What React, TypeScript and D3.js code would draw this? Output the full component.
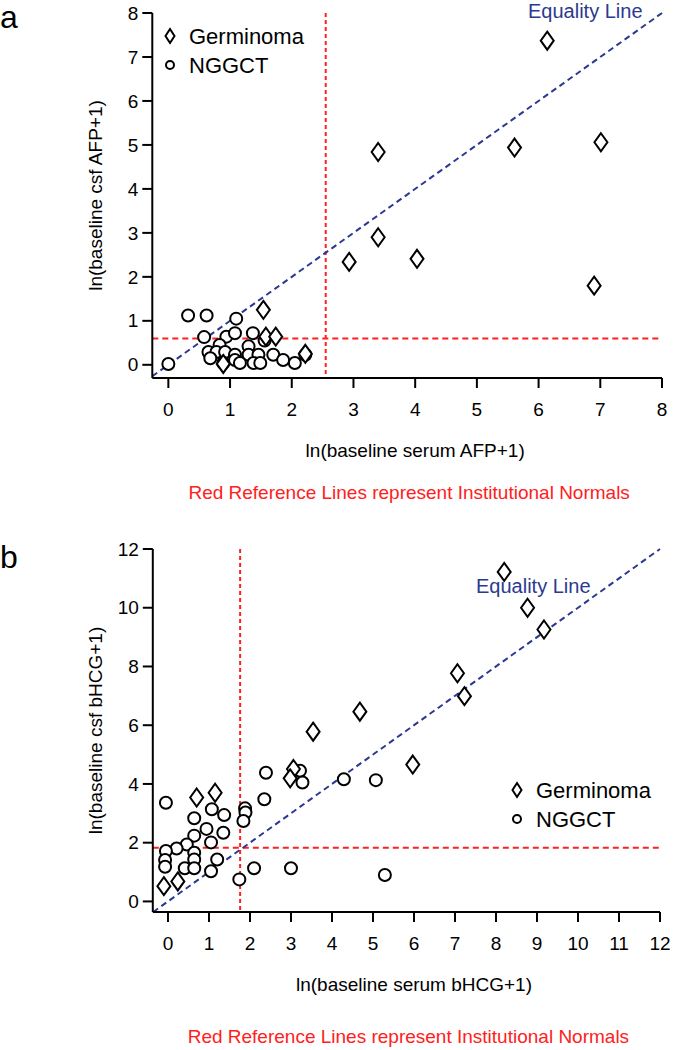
import React from "react";
import * as d3 from "d3";

// Panel a: AFP
const afpGermX = [6.14, 5.61, 7.01, 3.4, 3.4, 4.03, 6.9, 2.93, 1.54, 1.58, 1.74, 2.22, 0.89];
const afpGermY = [7.37, 4.94, 5.06, 4.84, 2.9, 2.41, 1.8, 2.34, 1.25, 0.64, 0.64, 0.25, 0.02];
const afpNggX = [0, 0.32, 0.62, 1.1, 0.58, 0.94, 1.08, 1.37, 1.56, 0.83, 1.3, 0.65, 0.78, 0.92, 1.08, 1.3, 1.46, 1.7, 0.68, 1.08, 0.89, 1.16, 1.38, 1.49, 1.86, 2.05, 2.22];
const afpNggY = [0.02, 1.12, 1.12, 1.05, 0.63, 0.64, 0.72, 0.72, 0.55, 0.45, 0.42, 0.29, 0.29, 0.29, 0.23, 0.23, 0.23, 0.23, 0.15, 0.11, 0.04, 0.04, 0.04, 0.04, 0.11, 0.04, 0.23];
const afpTicks = [0, 1, 2, 3, 4, 5, 6, 7, 8];
const afpRefX = 2.55;
const afpRefY = 0.6;

// Panel b: bHCG
const hcgGermX = [-0.1, 0.24, 0.7, 1.15, 3.06, 2.98, 3.54, 4.68, 5.97, 7.06, 7.23, 8.77, 9.17, 8.2];
const hcgGermY = [0.52, 0.68, 3.54, 3.7, 4.51, 4.19, 5.78, 6.46, 4.66, 7.77, 6.99, 10.0, 9.26, 11.22];
const hcgNggX = [-0.05, 1.07, 1.37, 0.64, 0.94, 1.35, 0.64, 1.05, 0.46, 0.21, -0.05, 0.64, -0.07, 0.64, 1.2, -0.07, 0.41, 0.64, 1.05, 1.88, 1.89, 1.84, 2.39, 2.35, 3.22, 3.28, 4.29, 5.07, 2.1, 3.0, 5.29, 1.74];
const hcgNggY = [3.36, 3.14, 2.94, 2.83, 2.47, 2.34, 2.24, 2.01, 1.94, 1.8, 1.72, 1.66, 1.41, 1.43, 1.43, 1.18, 1.13, 1.13, 1.03, 3.17, 3.03, 2.74, 4.38, 3.48, 4.45, 4.05, 4.16, 4.13, 1.13, 1.13, 0.9, 0.75];
const hcgXTicks = [0, 1, 2, 3, 4, 5, 6, 7, 8, 9, 10, 11, 12];
const hcgYTicks = [0, 2, 4, 6, 8, 10, 12];
const hcgRefX = 1.76;
const hcgRefY = 1.83;

const FONT = "'Liberation Sans', Arial, Helvetica, sans-serif";
const BLUE = "#2b3990";
const RED = "#ff2020";

function diamond(cx: number, cy: number, w: number, h: number) {
  return `M${cx},${cy - h}L${cx + w},${cy}L${cx},${cy + h}L${cx - w},${cy}Z`;
}

type PanelProps = {
  letter: string;
  letterY: number;
  xDomain: [number, number];
  xRange: [number, number];
  yDomain: [number, number];
  yRange: [number, number];
  xTicks: number[];
  yTicks: number[];
  germX: number[];
  germY: number[];
  nggX: number[];
  nggY: number[];
  refX: number;
  refY: number;
  eqMax: number;
  xTitle: string;
  yTitle: string;
  eqLabel: { x: number; y: number };
  legend: { x: number; y: number };
  noteY: number;
};

function Panel(p: PanelProps) {
  const xs = d3.scaleLinear().domain(p.xDomain).range(p.xRange);
  const ys = d3.scaleLinear().domain(p.yDomain).range(p.yRange);
  const [x0, x1] = p.xRange;
  const [yb, yt] = p.yRange;
  const eqMin = Math.max(p.xDomain[0], p.yDomain[0]);
  const line = d3.line<[number, number]>().x((d) => xs(d[0])).y((d) => ys(d[1]));
  const midY = (yb + yt) / 2;
  const midX = (xs(0) + x1) / 2;
  return (
    <g fontFamily={FONT}>
      <text x={0} y={p.letterY} fontSize={32}>{p.letter}</text>
      {/* reference lines */}
      <line x1={xs(p.refX)} x2={xs(p.refX)} y1={yt} y2={yb} stroke={RED} strokeWidth={2} strokeDasharray="4,3" />
      <line x1={x0} x2={x1} y1={ys(p.refY)} y2={ys(p.refY)} stroke={RED} strokeWidth={2} strokeDasharray="6,4" />
      {/* equality line */}
      <path d={line([[eqMin, eqMin], [p.eqMax, p.eqMax]]) || ""} stroke={BLUE} strokeWidth={2} strokeDasharray="6,4" fill="none" />
      <text x={p.eqLabel.x} y={p.eqLabel.y} fill={BLUE} fontSize={20}>Equality Line</text>
      {/* axes */}
      <line x1={x0} x2={x0} y1={yt} y2={yb} stroke="#000" strokeWidth={2} />
      <line x1={x0} x2={x1} y1={yb} y2={yb} stroke="#000" strokeWidth={2} />
      {p.yTicks.map((t) => (
        <g key={"y" + t}>
          <line x1={x0 - 10} x2={x0} y1={ys(t)} y2={ys(t)} stroke="#000" strokeWidth={2} />
          <text x={x0 - 14} y={ys(t)} dy="0.35em" textAnchor="end" fontSize={19}>{t}</text>
        </g>
      ))}
      {p.xTicks.map((t) => (
        <g key={"x" + t}>
          <line x1={xs(t)} x2={xs(t)} y1={yb} y2={yb + 10} stroke="#000" strokeWidth={2} />
          <text x={xs(t)} y={yb + 31} dy="0.35em" textAnchor="middle" fontSize={19}>{t}</text>
        </g>
      ))}
      <text x={midX} y={yb + 72} dy="0.35em" textAnchor="middle" fontSize={19}>{p.xTitle}</text>
      <text transform={`translate(95,${midY}) rotate(-90)`} textAnchor="middle" dy="0.35em" fontSize={19}>{p.yTitle}</text>
      {/* points */}
      {p.nggX.map((v, i) => (
        <circle key={"n" + i} cx={xs(v)} cy={ys(p.nggY[i])} r={6} fill="#fff" stroke="#000" strokeWidth={2} />
      ))}
      {p.germX.map((v, i) => (
        <path key={"g" + i} d={diamond(xs(v), ys(p.germY[i]), 6.5, 9)} fill="#fff" stroke="#000" strokeWidth={2} />
      ))}
      {/* legend */}
      <path d={diamond(p.legend.x, p.legend.y, 4.5, 7)} fill="#fff" stroke="#000" strokeWidth={2} />
      <text x={p.legend.x + 19} y={p.legend.y} dy="0.35em" fontSize={22}>Germinoma</text>
      <circle cx={p.legend.x} cy={p.legend.y + 29} r={4} fill="#fff" stroke="#000" strokeWidth={2} />
      <text x={p.legend.x + 19} y={p.legend.y + 29} dy="0.35em" fontSize={22}>NGGCT</text>
      <text x={(x0 + x1) / 2 + 2} y={p.noteY} dy="0.35em" textAnchor="middle" fill={RED} fontSize={19}>Red Reference Lines represent Institutional Normals</text>
    </g>
  );
}

export default function App() {
  return (
    <svg width={674} height={1050} style={{ position: "absolute", left: 0, top: 0, background: "#fff" }}>
      <Panel
        letter="a"
        letterY={28}
        xDomain={[-0.26, 8]}
        xRange={[152.3, 662]}
        yDomain={[-0.3, 8]}
        yRange={[378, 13]}
        xTicks={afpTicks}
        yTicks={afpTicks}
        germX={afpGermX}
        germY={afpGermY}
        nggX={afpNggX}
        nggY={afpNggY}
        refX={afpRefX}
        refY={afpRefY}
        eqMax={8}
        xTitle="ln(baseline serum AFP+1)"
        yTitle="ln(baseline csf AFP+1)"
        eqLabel={{ x: 528, y: 18 }}
        legend={{ x: 170, y: 36 }}
        noteY={492}
      />
      <Panel
        letter="b"
        letterY={568}
        xDomain={[-0.37, 12]}
        xRange={[152.8, 660]}
        yDomain={[-0.36, 12]}
        yRange={[912, 549]}
        xTicks={hcgXTicks}
        yTicks={hcgYTicks}
        germX={hcgGermX}
        germY={hcgGermY}
        nggX={hcgNggX}
        nggY={hcgNggY}
        refX={hcgRefX}
        refY={hcgRefY}
        eqMax={12}
        xTitle="ln(baseline serum bHCG+1)"
        yTitle="ln(baseline csf bHCG+1)"
        eqLabel={{ x: 476, y: 593 }}
        legend={{ x: 517, y: 790 }}
        noteY={1036}
      />
    </svg>
  );
}
